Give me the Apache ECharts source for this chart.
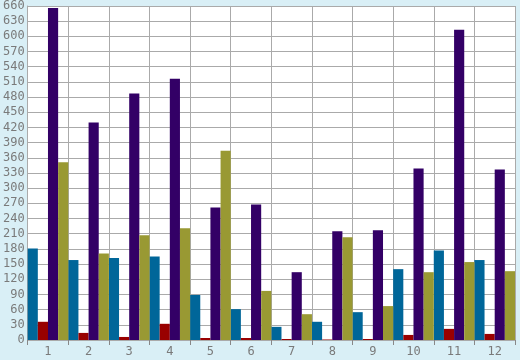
<!DOCTYPE html>
<html>
<head>
<meta charset="utf-8">
<script src="https://cdn.jsdelivr.net/npm/echarts@6/dist/echarts.min.js"></script>
<style>
html,body{margin:0;padding:0;background:#d9eff6;}
#c{width:520px;height:360px;}
</style>
</head>
<body>
<div id="c"></div>
<script>
var categories = ['1','2','3','4','5','6','7','8','9','10','11','12'];
var seriesTeal   = [181, 158, 162, 165, 89, 61, 26, 36, 55, 140, 177, 158];
var seriesRed    = [36, 14, 6, 32, 4, 4, 2, 1, 2, 10, 22, 12];
var seriesPurple = [656, 430, 487, 516, 262, 268, 134, 215, 217, 339, 613, 337];
var seriesOlive  = [351, 171, 207, 221, 374, 97, 51, 203, 67, 134, 154, 136];

var chart = echarts.init(document.getElementById('c'), null, {renderer:'canvas'});
var gridColor = '#aaaaaa';
var labelColor = '#7a7a7a';
var font = 'DejaVu Sans Mono';
function bar(name, data, color){
  return {name:name, type:'bar', data:data, barGap:'0%', barCategoryGap:'0%',
          itemStyle:{color:color}, animation:false};
}
chart.setOption({
  backgroundColor:'#d9eff6',
  animation:false,
  grid:{left:25, top:5, right:5, bottom:20, show:true, backgroundColor:'#ffffff', borderWidth:0},
  xAxis:{
    type:'category', data:categories, boundaryGap:true,
    axisLine:{show:true, lineStyle:{color:gridColor, width:1}},
    axisTick:{show:true, length:5, lineStyle:{color:'#888888'}},
    splitLine:{show:true, lineStyle:{color:gridColor, width:1}},
    axisLabel:{color:labelColor, fontFamily:font, fontSize:12, margin:6}
  },
  yAxis:{
    type:'value', min:0, max:660, interval:30,
    axisLine:{show:true, lineStyle:{color:gridColor, width:1}},
    axisTick:{show:false},
    splitLine:{show:true, lineStyle:{color:gridColor, width:1}},
    axisLabel:{color:labelColor, fontFamily:font, fontSize:12, margin:3}
  },
  series:[
    bar('teal', seriesTeal, '#006699'),
    bar('red', seriesRed, '#990000'),
    bar('purple', seriesPurple, '#330066'),
    bar('olive', seriesOlive, '#999933')
  ]
});
</script>
</body>
</html>
